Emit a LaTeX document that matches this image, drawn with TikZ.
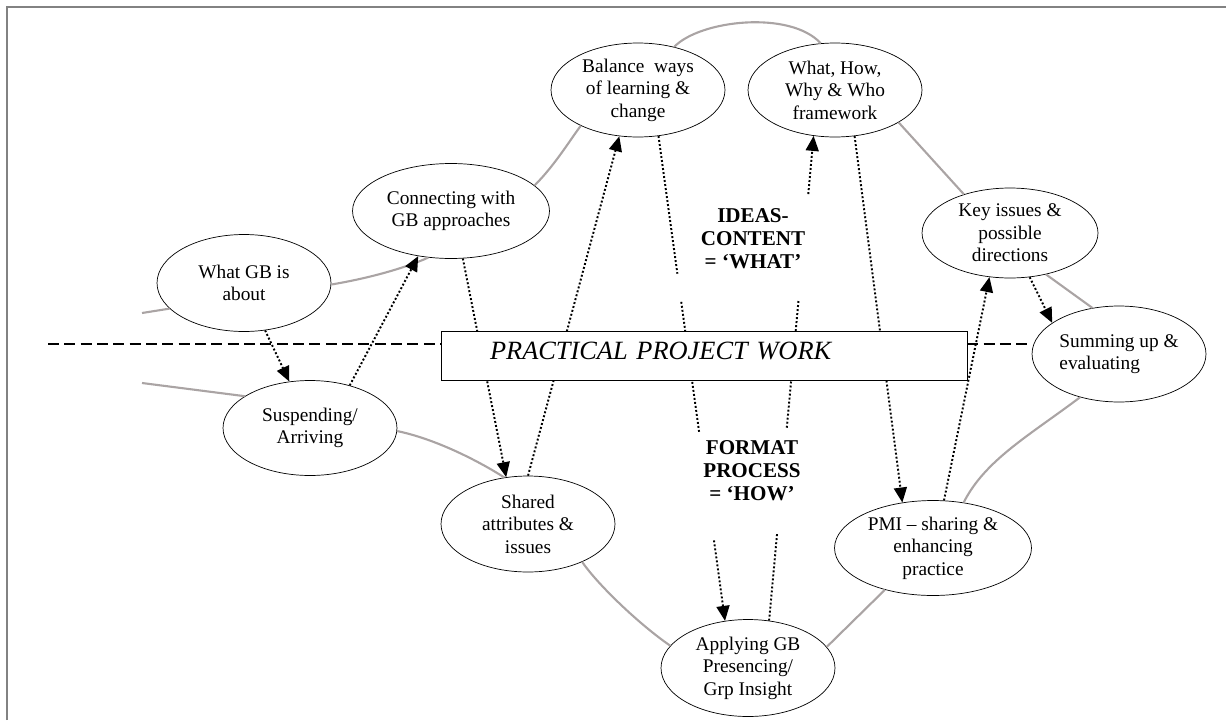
\documentclass[tikz,border=0pt]{standalone}
\usepackage{fontspec}
\setmainfont{Liberation Serif}
\usetikzlibrary{shapes.geometric,arrows.meta,calc}

\definecolor{loopgray}{RGB}{170,164,164}
\definecolor{framegray}{RGB}{130,130,130}

\tikzset{
stage/.style={ellipse, draw, thin, inner sep=0pt, align=center,
  minimum width=3.48cm, minimum height=1.9cm,
  font=\fontsize{11}{12.8}\selectfont},
loopline/.style={loopgray, line width=1.2pt},
hop/.style={line width=1.1pt, dash pattern=on 1.1pt off 1.2pt},
hopto/.style={hop, -{Triangle[length=0.3cm,width=0.26cm]}},
divider/.style={line width=1.7pt, dash pattern=on 6.2pt off 3.1pt},
theme/.style={align=center, font=\fontsize{12}{13}\selectfont\bfseries}
}

\begin{document}
\begin{tikzpicture}[x=0.02cm, y=-0.02cm]
\useasboundingbox (0,0) rectangle (1226,720);
% frame
\draw[framegray, line width=1.1pt] (7,720) -- (7,7) -- (1226,7);

% the stages round the cycle
\node[stage, minimum height=1.94cm] (about) at (244,283) {What GB is\\about};
\node[stage, minimum width=3.94cm] (connect) at (451,211) {Connecting with\\GB approaches};
\node[stage, minimum height=1.88cm] (balance) at (638,90) {Balance\ \ ways\\of learning \&\\change};
\node[stage, minimum height=1.88cm] (framework) at (835,90) {What, How,\\Why \& Who\\framework};
\node[stage, minimum width=3.52cm, minimum height=1.8cm] (keyissues) at (1010,233) {Key issues \&\\possible\\directions};
\node[stage, minimum height=1.92cm, align=left] (summing) at (1119,354) {Summing up \&\\evaluating};
\node[stage] (suspend) at (310,428) {Suspending/\\Arriving};
\node[stage, minimum height=1.92cm] (shared) at (528,524) {Shared\\attributes \&\\issues};
\node[stage, minimum height=1.94cm] (applying) at (748,668) {Applying GB\\Presencing/\\Grp Insight};
\node[stage, minimum width=3.94cm] (pmi) at (933,548) {PMI -- sharing \&\\enhancing\\practice};

\node[theme] (ideas) at (753,239) {IDEAS-\\CONTENT\\= `WHAT'};
\node[theme] (format) at (752,471) {FORMAT\\PROCESS\\= `HOW'};

% grey cycle
\coordinate (inlet) at (142,313);
\coordinate (outlet) at (142,383);
\draw[loopline] (inlet) -- (about.-161);
\draw[loopline] (about.-1) .. controls (370,278) and (405,268) .. (connect.-116);
\draw[loopline] (connect.17) .. controls (555,165) and (570,140) .. (balance.-148);
\draw[loopline] (balance.50) .. controls (700,20) and (790,10) .. (framework.107);
\draw[loopline] (framework.-27) -- (keyissues.140);
\draw[loopline] (keyissues.-49) -- (summing.120);
\draw[loopline] (summing.-132) .. controls (1030,435) and (985,460) .. (pmi.56);
\draw[loopline] (pmi.-139) -- (applying.15);
\draw[loopline] (applying.164) .. controls (640,625) and (598,585) .. (shared.-35);
\draw[loopline] (shared.117) .. controls (485,465) and (440,440) .. (suspend.-2);
\draw[loopline] (suspend.154) -- (outlet);

% dotted links
\draw[hopto] (about.-66) -- (suspend.114);
\draw[hopto] (suspend.47) -- (connect.-126);
\draw[hopto] (connect.-76) -- (shared.115);
\draw[hopto] (shared.90) -- (balance.-112);
\draw[hop] (balance.-66) -- ($(balance.-66)!0.284!(applying.116)$);
\draw[hop] ($(balance.-66)!0.342!(applying.116)$) -- ($(balance.-66)!0.61!(applying.116)$);
\draw[hopto] ($(balance.-66)!0.834!(applying.116)$) -- (applying.116);
\draw[hop] (applying.66) -- ($(applying.66)!0.18!(framework.-115)$);
\draw[hop] ($(applying.66)!0.398!(framework.-115)$) -- ($(applying.66)!0.662!(framework.-115)$);
\draw[hopto] ($(applying.66)!0.88!(framework.-115)$) -- (framework.-115);
\draw[hopto] (framework.-67) -- (pmi.124);
\draw[hopto] (pmi.77) -- (keyissues.-115);
\draw[hopto] (keyissues.-66) -- (summing.155);

% project work bar
\node[draw, thin, fill=white, minimum height=0.98cm, text width=8.56cm, inner xsep=0.98cm,
  text height=10pt, text depth=5.6pt,
  align=left, font=\fontsize{15}{15}\selectfont\itshape] (work) at (704,355.5) {PRACTICAL PROJECT WORK};
\coordinate (edge) at (48,344);
\draw[divider] (edge) -- (edge -| work.west);
\draw[divider] (work.east |- edge) -- (edge -| summing.west);

\end{tikzpicture}
\end{document}
